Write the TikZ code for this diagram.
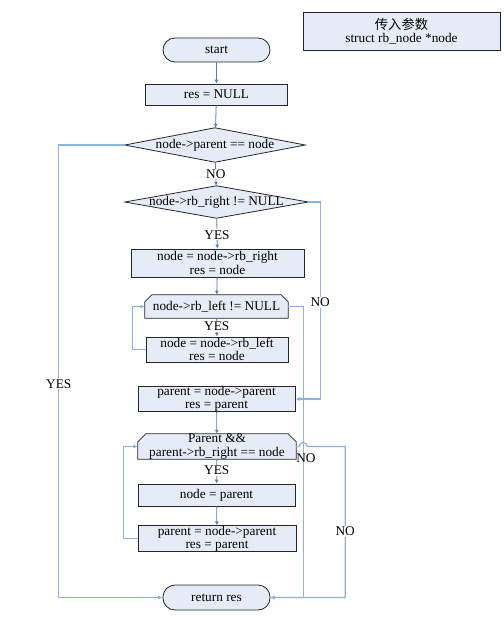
\documentclass[tikz,border=0pt]{standalone}
\usepackage{fontspec}
\setmainfont{Liberation Serif}
\newfontfamily\cjk{Noto Sans CJK SC}
\usetikzlibrary{arrows.meta}
\definecolor{boxfill}{HTML}{E6ECF7}
\definecolor{vline}{HTML}{4F81BD}
\definecolor{sline}{HTML}{8DB3E2}
\tikzset{
  every node/.style={font=\fontsize{13.3}{13.3}\selectfont, text=black},
  stepbox/.style={draw=black!85, line width=0.8pt, fill=boxfill, rectangle, inner sep=0pt, align=center},
  termbox/.style={stepbox, rounded corners=12pt},
  hexbox/.style={inner sep=0pt, align=center},
  vconn/.style={draw=vline, line width=0.8pt, -{Latex[length=4pt,width=4pt]}},
  sconn/.style={draw=sline, line width=1.2pt, -{Latex[length=4.5pt,width=4pt,fill=vline]}},
  lbl/.style={fill=white, inner sep=1pt}
}
\newcommand{\hexpath}[2]{%
  \draw[draw=black!85, line width=0.8pt, fill=boxfill]
    (#1.south west) -- ([yshift=-#2]#1.north west) -- ([xshift=#2]#1.north west)
    -- ([xshift=-#2]#1.north east) -- ([yshift=-#2]#1.north east) -- (#1.south east) -- cycle;}
\newcommand{\diapath}[1]{%
  \draw[draw=black!85, line width=0.8pt, fill=boxfill]
    (#1.west) -- (#1.north) -- (#1.east) -- (#1.south) -- cycle;}
\begin{document}
\begin{tikzpicture}[x=1pt,y=-1pt]
\useasboundingbox (0,0) rectangle (504,633);
% parameter box
\node[stepbox, minimum width=197pt, minimum height=38pt] (params) at (401.5,31)
  {{\cjk 传入参数}\\struct rb\_node *node};
% flow
\node[termbox, minimum width=107pt, minimum height=24pt] (start) at (216.5,50) {start};
\node[stepbox, minimum width=142pt, minimum height=21pt] (resnull) at (216.5,94.5) {res = NULL};
\node[hexbox, minimum width=180pt, minimum height=34pt] (d1) at (215,145) {};
\diapath{d1}
\node at (d1) {node->parent == node};
\node[hexbox, minimum width=183pt, minimum height=32pt] (d2) at (216.5,202) {};
\diapath{d2}
\node at (d2) {node->rb\_right != NULL};
\node[stepbox, minimum width=173pt, minimum height=28pt] (b1) at (217.5,263) {node = node->rb\_right\\res = node};
\node[hexbox, minimum width=143pt, minimum height=23pt] (h1) at (216.5,306.5) {};
\hexpath{h1}{7pt}
\node at (h1) {node->rb\_left != NULL};
\node[stepbox, minimum width=142pt, minimum height=25pt] (b2) at (217,349.5) {node = node->rb\_left\\res = node};
\node[stepbox, minimum width=157pt, minimum height=24pt] (b3) at (216.5,399) {parent = node->parent\\res = parent};
\node[hexbox, minimum width=158pt, minimum height=25pt] (h2) at (217,446.5) {};
\hexpath{h2}{8pt}
\node[align=center] at (h2) {Parent \&\&\\parent->rb\_right == node};
\node[stepbox, minimum width=157pt, minimum height=22pt] (b4) at (216.5,495) {node = parent};
\node[stepbox, minimum width=158pt, minimum height=23pt] (b5) at (217,538.5) {parent = node->parent\\res = parent};
\node[termbox, minimum width=107pt, minimum height=25pt] (ret) at (216.5,597.5) {return res};
% vertical connectors
\draw[vconn] (start) -- (resnull);
\draw[vconn] (resnull) -- (d1);
\draw[vconn] (d1) -- node[lbl] {NO} (d2);
\draw[vconn] (d2) -- node[lbl, pos=0.55] {YES} (b1);
\draw[vconn] (b1) -- (h1);
\draw[vconn] (h1) -- node[lbl, pos=0.45] {YES} (b2);
\draw[vconn] (b3) -- (h2);
\draw[vconn] (h2) -- node[lbl, pos=0.45] {YES} (b4);
\draw[vconn] (b4) -- (b5);
% side connectors
\draw[sconn] (d1.west) -- ++(-66,0) |- node[lbl, pos=0.264] {YES} (ret.west);
\draw[sconn] (d2.east) -- ++(12,0) |- node[lbl, pos=0.254] {NO} (b3.east);
\draw[sconn] (h1.east) -- ++(15,0) |- (ret.east);
\node[inner sep=0pt] (nolbl) at (306,458) {NO};
\draw[sconn] (h2.east) -- ++(3,0) arc[start angle=180,end angle=360,radius=4] -- ++(38,0) |- node[lbl, pos=0.28] {NO} (ret.east);
\draw[sconn] (b2.west) -- ++(-13,0) |- (h1.west);
\draw[sconn] (b5.west) -- ++(-14,0) |- (h2.west);
\end{tikzpicture}
\end{document}
